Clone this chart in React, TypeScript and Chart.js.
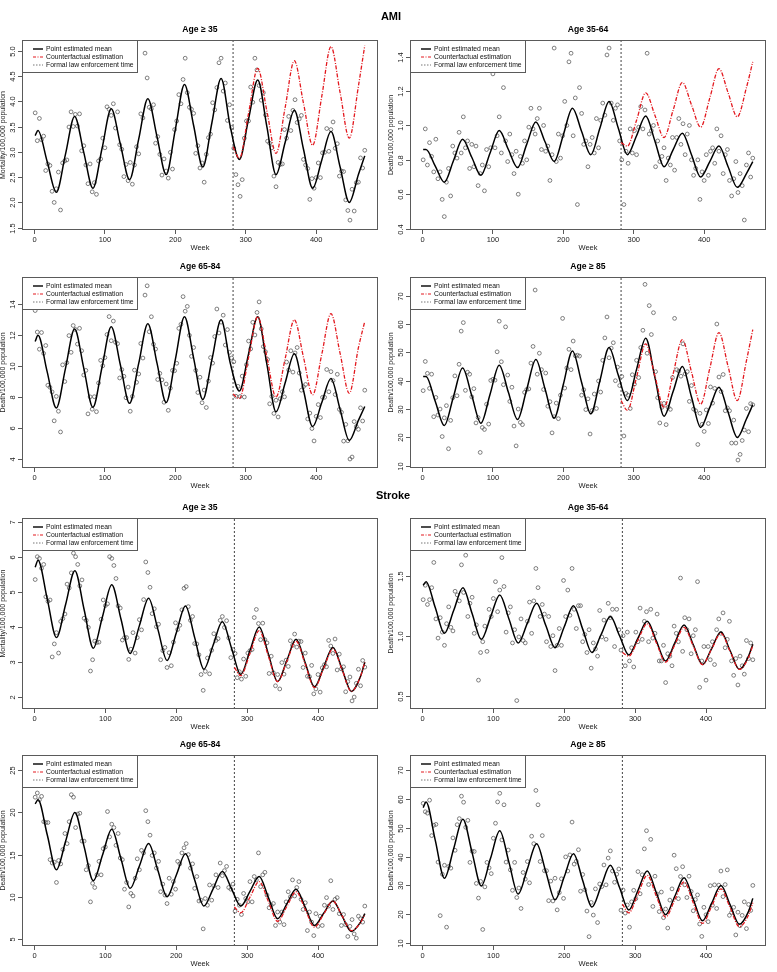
import React, { useEffect, useRef } from "react";
import { Chart, registerables } from "chart.js";

Chart.register(...registerables);

const FONT = '"Liberation Sans", Arial, Helvetica, sans-serif';
const RED = "#e3191f";

// ---------- weeks ----------
const obsWeeks = [
  1, 4, 7, 10, 13, 16, 19, 22, 25, 28,
  31, 34, 37, 40, 43, 46, 49, 52, 55, 58,
  61, 64, 67, 70, 73, 76, 79, 82, 85, 88,
  91, 94, 97, 100, 103, 106, 109, 112, 115, 118,
  121, 124, 127, 130, 133, 136, 139, 142, 145, 148,
  151, 154, 157, 160, 163, 166, 169, 172, 175, 178,
  181, 184, 187, 190, 193, 196, 199, 202, 205, 208,
  211, 214, 217, 220, 223, 226, 229, 232, 235, 238,
  241, 244, 247, 250, 253, 256, 259, 262, 265, 268,
  271, 274, 277, 280, 283, 286, 289, 292, 295, 298,
  301, 304, 307, 310, 313, 316, 319, 322, 325, 328,
  331, 334, 337, 340, 343, 346, 349, 352, 355, 358,
  361, 364, 367, 370, 373, 376, 379, 382, 385, 388,
  391, 394, 397, 400, 403, 406, 409, 412, 415, 418,
  421, 424, 427, 430, 433, 436, 439, 442, 445, 448,
  451, 454, 457, 460, 463, 466, 469,
];
const amiMeanWeeks = [1, 5, 18, 31, 44, 57, 70, 83, 96, 109, 122, 135, 148, 161, 174, 187, 200, 213, 226, 239, 252, 265, 278, 291, 304, 317, 330, 343, 356, 369, 382, 395, 408, 421, 434, 447, 460, 469];
const strokeMeanWeeks = [1, 5, 18, 31, 44, 57, 70, 83, 96, 109, 122, 135, 148, 161, 174, 187, 200, 213, 226, 239, 252, 265, 278, 291, 304, 317, 330, 343, 356, 369, 382, 395, 408, 421, 434, 447, 460, 466];
const amiCfWeeks = [282, 291, 304, 317, 330, 343, 356, 369, 382, 395, 408, 421, 434, 447, 460, 469];
const strokeCfWeeks = [282, 291, 304, 317, 330, 343, 356, 369, 382, 395, 408, 421, 434, 447, 460, 466];
const enforcementWeek = 282;
const xTickValues = [0, 100, 200, 300, 400];
const legendLabels = ["Point estimated mean", "Counterfactual estimation", "Formal law enforcement time"];

// ---------- AMI, Age >= 35 ----------
const amiAge35Obs = [
  3.77, 3.22, 3.66, 3.24, 3.31, 2.63, 2.76, 2.73, 2.22, 2.0,
  2.27, 2.6, 1.85, 2.78, 2.82, 2.84, 3.49, 3.79, 3.5, 3.74,
  3.51, 3.75, 3.02, 3.12, 2.74, 2.37, 2.76, 2.21, 2.39, 2.16,
  2.82, 2.86, 3.27, 3.08, 3.89, 3.84, 3.72, 3.95, 3.47, 3.79,
  3.14, 3.05, 2.51, 2.75, 2.43, 2.79, 2.36, 2.74, 3.1, 2.96,
  3.75, 3.67, 4.95, 4.46, 3.88, 3.85, 3.93, 3.17, 3.3, 2.95,
  2.54, 2.86, 2.62, 2.48, 2.99, 2.66, 3.44, 3.61, 4.13, 3.95,
  4.43, 4.85, 4.17, 3.88, 3.84, 3.76, 2.97, 3.12, 2.68, 2.78,
  2.4, 2.95, 3.28, 3.35, 3.97, 3.83, 4.27, 4.76, 4.85, 4.2,
  4.36, 3.62, 3.93, 3.48, 3.07, 2.55, 2.35, 2.12, 2.45, 3.27,
  3.61, 3.61, 4.28, 3.98, 4.85, 4.62, 4.31, 4.02, 4.17, 3.73,
  3.21, 3.17, 3.08, 2.52, 2.31, 2.79, 2.75, 2.76, 3.44, 3.27,
  3.7, 3.42, 3.82, 4.03, 3.58, 3.65, 3.72, 2.85, 2.74, 2.67,
  2.06, 2.47, 2.28, 2.49, 2.78, 2.49, 2.98, 2.99, 3.46, 3.01,
  3.44, 3.59, 3.07, 3.16, 2.52, 2.62, 2.61, 2.05, 1.84, 1.65,
  2.26, 1.83, 2.39, 2.4, 2.88, 2.68, 3.03,
];
const amiAge35Mean = [3.32, 3.42, 2.81, 2.2, 2.95, 3.7, 2.99, 2.28, 3.07, 3.85, 3.15, 2.45, 3.25, 4.05, 3.3, 2.55, 3.44, 4.33, 3.52, 2.7, 3.58, 4.45, 3.5, 2.85, 3.65, 4.42, 3.5, 2.55, 3.19, 3.82, 3.05, 2.28, 2.84, 3.4, 2.7, 2.0, 2.55, 2.92];
const amiAge35Cf = [3.1, 2.87, 3.76, 4.65, 3.81, 2.97, 3.88, 4.8, 3.96, 3.13, 4.1, 5.08, 4.17, 3.27, 4.3, 5.1];
const amiAge35YTicks = [1.5, 2, 2.5, 3, 3.5, 4, 4.5, 5];
const amiAge35YLabels = ["1.5", "2.0", "2.5", "3.0", "3.5", "4.0", "4.5", "5.0"];

// ---------- AMI, Age 35-64 ----------
const amiAge3564Obs = [
  0.8, 0.98, 0.77, 0.9, 0.82, 0.73, 0.92, 0.69, 0.73, 0.57,
  0.47, 0.67, 0.75, 0.59, 0.88, 0.84, 0.81, 0.96, 0.84, 1.05,
  0.87, 0.91, 0.75, 0.89, 0.76, 0.88, 0.65, 0.72, 0.77, 0.62,
  0.86, 0.76, 0.87, 1.3, 0.87, 0.94, 1.05, 0.84, 1.22, 0.91,
  0.79, 0.95, 0.83, 0.72, 0.85, 0.6, 0.82, 0.78, 0.91, 0.8,
  0.99, 1.1, 0.98, 0.95, 1.04, 1.1, 0.86, 1.0, 0.85, 0.88,
  0.68, 0.83, 1.45, 0.79, 0.95, 0.81, 0.94, 1.14, 1.0, 1.37,
  1.42, 0.94, 1.16, 0.54, 1.22, 1.07, 0.89, 0.91, 0.76, 0.89,
  0.93, 0.84, 1.04, 0.87, 1.03, 1.13, 1.06, 1.41, 1.45, 1.13,
  1.03, 1.1, 1.12, 0.91, 0.8, 0.54, 0.85, 0.78, 0.98, 0.84,
  0.97, 0.83, 0.99, 1.11, 0.98, 1.09, 1.42, 0.95, 0.97, 1.0,
  0.76, 0.91, 0.79, 0.82, 0.87, 0.68, 0.81, 0.77, 0.93, 0.74,
  0.93, 1.04, 0.89, 1.01, 0.83, 0.95, 1.0, 0.8, 0.71, 0.75,
  0.8, 0.57, 0.73, 0.68, 0.83, 0.71, 0.85, 0.87, 0.78, 0.98,
  0.85, 0.94, 0.72, 0.83, 0.86, 0.68, 0.59, 0.69, 0.79, 0.61,
  0.72, 0.65, 0.45, 0.77, 0.84, 0.7, 0.81,
];
const amiAge3564Mean = [0.86, 0.86, 0.765, 0.67, 0.795, 0.92, 0.815, 0.71, 0.84, 0.97, 0.86, 0.755, 0.89, 1.02, 0.905, 0.79, 0.945, 1.1, 0.965, 0.83, 0.985, 1.14, 0.985, 0.83, 0.94, 1.055, 0.91, 0.76, 0.86, 0.955, 0.83, 0.7, 0.79, 0.88, 0.76, 0.64, 0.72, 0.79];
const amiAge3564Cf = [0.9, 0.88, 1.03, 1.19, 1.06, 0.93, 1.09, 1.25, 1.12, 0.99, 1.16, 1.33, 1.19, 1.05, 1.22, 1.37];
const amiAge3564YTicks = [0.4, 0.6, 0.8, 1.0, 1.2, 1.4];
const amiAge3564YLabels = ["0.4", "0.6", "0.8", "1.0", "1.2", "1.4"];

// ---------- AMI, Age 65-84 ----------
const amiAge6584Obs = [
  13.6, 12.21, 11.1, 12.18, 10.83, 11.34, 8.77, 8.64, 8.34, 6.47,
  8.05, 7.09, 5.75, 10.09, 9.01, 10.23, 11.98, 10.9, 12.63, 12.38,
  11.43, 12.45, 11.0, 9.43, 9.73, 6.92, 8.02, 7.22, 8.03, 7.06,
  8.92, 10.38, 10.03, 10.56, 12.05, 13.21, 11.65, 12.92, 11.55, 11.46,
  9.24, 9.78, 9.35, 7.96, 8.65, 7.09, 8.05, 9.75, 8.96, 9.5,
  11.47, 10.53, 14.6, 15.2, 12.23, 13.2, 11.42, 11.11, 9.14, 9.54,
  9.12, 7.67, 8.85, 7.15, 8.58, 9.73, 9.71, 10.19, 12.45, 12.71,
  14.5, 13.56, 13.87, 12.0, 10.64, 11.21, 9.73, 8.3, 9.29, 7.64,
  8.46, 7.33, 9.04, 10.56, 10.2, 11.92, 13.7, 12.15, 12.85, 13.3,
  11.37, 12.37, 10.9, 10.53, 10.29, 8.06, 8.7, 8.04, 9.36, 8.01,
  10.1, 11.63, 11.12, 12.84, 12.02, 13.48, 14.16, 12.42, 11.27, 10.94,
  10.44, 7.57, 8.05, 6.95, 7.8, 6.72, 7.9, 8.35, 8.02, 10.27,
  9.76, 11.0, 9.62, 10.86, 11.21, 9.56, 8.45, 8.68, 8.82, 6.59,
  6.97, 5.97, 5.17, 6.76, 7.52, 6.68, 7.99, 7.99, 9.79, 8.35,
  9.65, 9.07, 8.17, 9.48, 7.21, 7.02, 5.16, 6.24, 5.18, 4.0,
  4.13, 6.42, 6.1, 5.92, 7.31, 6.46, 8.45,
];
const amiAge6584Mean = [11.6, 12.0, 9.65, 7.3, 9.85, 12.4, 9.88, 7.35, 9.95, 12.55, 10.08, 7.6, 10.18, 12.75, 10.2, 7.65, 10.43, 13.2, 10.53, 7.85, 10.43, 13.0, 10.2, 8.4, 10.8, 13.2, 10.13, 7.05, 8.93, 10.8, 8.45, 6.1, 7.65, 9.2, 7.2, 5.2, 6.5, 7.4];
const amiAge6584Cf = [8.2, 7.9, 10.55, 13.2, 10.6, 8.0, 10.5, 13.0, 10.58, 8.15, 10.78, 13.4, 10.83, 8.25, 11.2, 12.9];
const amiAge6584YTicks = [4, 6, 8, 10, 12, 14];
const amiAge6584YLabels = ["4", "6", "8", "10", "12", "14"];

// ---------- AMI, Age >= 85 ----------
const amiAge85Obs = [
  36.5, 46.8, 42.6, 37.3, 42.3, 27.3, 34.1, 27.9, 30.0, 20.3,
  26.9, 31.2, 16.0, 26.0, 34.0, 41.7, 34.7, 45.8, 57.5, 60.5,
  36.6, 43.0, 42.3, 34.3, 37.2, 25.1, 27.0, 14.7, 23.5, 22.8,
  31.7, 24.7, 40.1, 40.5, 40.2, 50.2, 61.0, 46.7, 38.6, 59.0,
  42.0, 32.7, 37.7, 24.0, 17.0, 30.0, 25.3, 24.5, 35.9, 36.9,
  37.1, 46.2, 52.1, 72.0, 42.3, 49.7, 43.9, 36.9, 42.7, 31.0,
  32.6, 21.6, 27.3, 32.1, 26.6, 34.9, 62.0, 37.4, 44.5, 51.1,
  43.9, 54.0, 48.8, 49.0, 48.7, 34.9, 36.8, 29.8, 33.6, 21.2,
  29.5, 35.3, 30.2, 39.9, 36.0, 47.2, 55.1, 62.5, 48.1, 51.5,
  53.4, 40.0, 44.8, 38.3, 41.5, 20.5, 35.5, 34.9, 30.2, 42.1,
  38.8, 47.2, 41.1, 51.7, 57.8, 74.0, 49.7, 66.5, 56.3, 64.0,
  43.2, 34.0, 25.1, 30.6, 32.0, 24.5, 30.6, 29.9, 41.1, 62.0,
  43.9, 43.4, 41.6, 53.0, 42.4, 43.2, 32.7, 38.3, 30.0, 29.4,
  17.5, 28.5, 24.6, 22.1, 29.7, 24.9, 37.8, 32.1, 37.3, 60.0,
  41.3, 36.2, 42.2, 29.4, 30.4, 29.4, 18.0, 26.1, 18.0, 12.0,
  14.0, 18.9, 22.6, 30.2, 22.0, 31.9, 31.5,
];
const amiAge85Mean = [41.5, 41.5, 32.85, 24.2, 34.35, 44.5, 34.75, 25.0, 35.25, 45.5, 35.9, 26.3, 36.9, 47.5, 37.15, 26.8, 38.65, 50.5, 39.4, 28.3, 40.0, 51.7, 42.0, 33.0, 44.0, 55.0, 41.25, 27.5, 36.25, 45.0, 34.25, 23.5, 30.6, 37.7, 28.85, 20.0, 26.5, 31.5];
const amiAge85Cf = [33.0, 29.5, 41.25, 53.0, 41.75, 30.5, 42.5, 54.5, 43.1, 31.7, 44.35, 57.0, 45.0, 33.0, 47.0, 58.0];
const amiAge85YTicks = [10, 20, 30, 40, 50, 60, 70];
const amiAge85YLabels = ["10", "20", "30", "40", "50", "60", "70"];

// ---------- Stroke, Age >= 35 ----------
const strokeAge35Obs = [
  5.35, 6.0, 5.95, 5.67, 5.78, 4.86, 4.73, 4.77, 3.15, 3.52,
  3.84, 3.26, 4.16, 4.24, 4.37, 5.22, 5.11, 5.54, 6.1, 6.0,
  5.78, 5.17, 5.34, 4.25, 4.19, 3.99, 2.75, 3.07, 3.6, 3.56,
  3.57, 4.22, 4.77, 4.61, 4.66, 6.0, 5.95, 5.75, 5.38, 4.6,
  4.54, 3.63, 3.7, 3.7, 3.08, 3.37, 3.84, 3.26, 3.7, 4.21,
  3.92, 4.78, 5.85, 5.55, 5.13, 4.38, 4.52, 4.01, 4.08, 3.07,
  3.33, 3.42, 2.85, 3.27, 2.9, 3.57, 4.12, 3.93, 4.05, 4.49,
  5.1, 5.15, 4.58, 4.19, 4.3, 3.53, 3.52, 3.21, 2.65, 2.2,
  2.74, 3.12, 2.67, 3.34, 3.81, 3.62, 3.67, 4.19, 4.3, 3.99,
  4.18, 3.69, 3.13, 3.36, 3.25, 2.56, 2.73, 2.52, 3.09, 2.6,
  3.26, 3.33, 3.36, 4.27, 4.5, 4.1, 3.64, 4.11, 3.64, 3.55,
  2.68, 3.17, 2.7, 2.33, 2.65, 2.24, 2.99, 2.66, 3.06, 2.88,
  3.61, 3.48, 3.8, 3.43, 3.6, 3.59, 2.85, 3.26, 2.6, 2.59,
  2.91, 2.1, 2.24, 2.65, 2.15, 2.84, 2.93, 2.87, 3.62, 3.46,
  3.25, 3.66, 2.78, 3.23, 2.81, 2.87, 2.16, 2.45, 2.58, 1.9,
  2.01, 2.4, 2.8, 2.33, 3.05, 2.86,
];
const strokeAge35Mean = [5.7, 5.9, 4.8, 3.7, 4.65, 5.6, 4.5, 3.4, 4.3, 5.2, 4.23, 3.25, 4.04, 4.82, 3.94, 3.05, 3.83, 4.6, 3.7, 2.8, 3.48, 4.15, 3.4, 2.65, 3.33, 4.0, 3.23, 2.45, 3.05, 3.65, 2.98, 2.3, 2.86, 3.42, 2.8, 2.17, 2.6, 3.0];
const strokeAge35Cf = [2.85, 2.62, 3.25, 3.9, 3.17, 2.45, 3.02, 3.6, 2.94, 2.28, 2.83, 3.38, 2.78, 2.17, 2.6, 3.0];
const strokeAge35YTicks = [2, 3, 4, 5, 6, 7];
const strokeAge35YLabels = ["2", "3", "4", "5", "6", "7"];

// ---------- Stroke, Age 35-64 ----------
const strokeAge3564Obs = [
  1.3, 1.42, 1.26, 1.3, 1.4, 1.61, 1.14, 0.98, 1.15, 1.03,
  0.92, 1.1, 1.24, 1.07, 1.04, 1.37, 1.34, 1.29, 1.59, 1.36,
  1.67, 1.16, 1.27, 1.32, 1.02, 1.09, 0.63, 0.86, 0.95, 1.08,
  0.87, 1.22, 1.16, 1.31, 1.45, 1.2, 1.38, 1.65, 1.41, 1.03,
  1.19, 1.24, 0.94, 1.05, 0.46, 0.99, 1.14, 0.96, 0.94, 1.12,
  1.28, 1.02, 1.29, 1.56, 1.4, 1.16, 1.26, 1.18, 0.95, 1.16,
  0.91, 1.0, 0.71, 0.92, 1.06, 0.92, 1.46, 1.16, 1.38, 1.17,
  1.56, 1.22, 1.06, 1.25, 1.25, 0.95, 1.01, 0.86, 1.05, 0.73,
  0.94, 0.89, 0.83, 1.21, 0.99, 1.13, 0.97, 1.27, 1.15, 1.22,
  0.91, 1.22, 1.05, 0.88, 1.0, 0.75, 1.03, 0.79, 0.9, 0.74,
  1.03, 0.95, 1.23, 0.97, 1.12, 1.2, 0.95, 1.22, 0.98, 1.02,
  1.18, 0.79, 0.79, 0.92, 0.61, 0.85, 0.83, 0.75, 1.08, 1.02,
  0.95, 1.48, 0.87, 1.15, 1.05, 1.14, 0.85, 1.0, 1.05, 1.45,
  0.57, 0.79, 0.91, 0.63, 0.91, 0.8, 0.95, 0.76, 1.05, 1.14,
  1.02, 1.19, 0.9, 0.97, 1.12, 0.79, 0.67, 0.81, 0.59, 0.83,
  0.75, 0.68, 0.96, 0.81, 0.94, 0.8,
];
const strokeAge3564Mean = [1.42, 1.45, 1.235, 1.02, 1.21, 1.4, 1.185, 0.97, 1.155, 1.34, 1.14, 0.94, 1.105, 1.27, 1.085, 0.9, 1.075, 1.25, 1.055, 0.86, 1.01, 1.16, 1.0, 0.84, 0.98, 1.12, 0.955, 0.79, 0.94, 1.09, 0.925, 0.76, 0.895, 1.03, 0.875, 0.72, 0.83, 0.93];
const strokeAge3564Cf = [0.86, 0.83, 0.965, 1.1, 0.94, 0.78, 0.925, 1.07, 0.915, 0.76, 0.89, 1.02, 0.87, 0.72, 0.82, 0.92];
const strokeAge3564YTicks = [0.5, 1.0, 1.5];
const strokeAge3564YLabels = ["0.5", "1.0", "1.5"];

// ---------- Stroke, Age 65-84 ----------
const strokeAge6584Obs = [
  21.8, 22.3, 21.5, 21.9, 18.9, 18.8, 18.8, 14.4, 14.0, 14.1,
  11.7, 14.3, 13.9, 15.6, 17.5, 16.3, 18.9, 22.1, 21.8, 18.2,
  19.8, 19.9, 16.6, 16.6, 13.2, 13.7, 9.4, 11.6, 11.1, 12.6,
  14.2, 12.6, 15.7, 15.9, 20.1, 17.1, 18.6, 18.2, 16.1, 17.5,
  14.6, 14.4, 10.9, 11.7, 8.8, 10.4, 10.1, 12.2, 14.5, 13.2,
  15.5, 15.2, 20.2, 18.9, 17.3, 14.9, 15.2, 13.4, 14.2, 10.6,
  11.5, 10.2, 9.2, 12.2, 10.3, 11.8, 10.9, 14.2, 13.9, 15.2,
  15.8, 16.3, 15.0, 13.4, 13.9, 11.0, 12.4, 9.5, 9.6, 6.2,
  9.8, 9.0, 11.4, 9.6, 11.3, 12.6, 11.1, 14.0, 12.5, 13.1,
  13.6, 11.1, 10.9, 11.5, 8.3, 9.7, 9.0, 7.9, 10.4, 9.8,
  9.4, 11.8, 9.4, 12.4, 12.0, 15.2, 11.2, 12.6, 12.9, 10.2,
  8.7, 9.0, 9.2, 6.6, 8.2, 7.0, 8.2, 6.7, 9.4, 10.6,
  10.0, 12.0, 10.1, 11.1, 11.8, 9.7, 8.5, 9.3, 6.0, 8.2,
  7.0, 5.4, 8.0, 6.5, 7.7, 6.6, 9.0, 9.9, 8.9, 11.9,
  8.5, 9.7, 9.9, 8.0, 6.6, 7.9, 6.7, 5.3, 6.5, 7.3,
  5.6, 5.1, 7.7, 7.4, 7.0, 8.9,
];
const strokeAge6584Mean = [21.0, 21.5, 17.35, 13.2, 16.6, 20.0, 15.95, 11.9, 14.95, 18.0, 14.5, 11.0, 13.65, 16.3, 13.15, 10.0, 12.55, 15.1, 12.0, 8.9, 10.95, 13.0, 10.95, 8.9, 10.65, 12.4, 9.9, 7.4, 9.15, 10.9, 8.75, 6.6, 8.05, 9.5, 7.7, 5.9, 7.0, 8.0];
const strokeAge6584Cf = [8.8, 8.1, 9.95, 11.8, 9.45, 7.1, 8.85, 10.6, 8.5, 6.4, 7.95, 9.5, 7.75, 6.0, 6.95, 7.9];
const strokeAge6584YTicks = [5, 10, 15, 20, 25];
const strokeAge6584YLabels = ["5", "10", "15", "20", "25"];

// ---------- Stroke, Age >= 85 ----------
const strokeAge85Obs = [
  58.5, 55.6, 55.1, 59.6, 47.3, 50.9, 51.2, 38.1, 19.5, 33.9,
  37.0, 15.5, 36.6, 36.0, 46.5, 42.2, 51.1, 53.2, 61.0, 58.9,
  50.2, 52.6, 38.0, 41.9, 41.8, 30.7, 25.6, 31.4, 14.7, 29.5,
  38.0, 36.1, 34.1, 46.4, 51.6, 59.0, 62.0, 45.8, 58.0, 38.1,
  42.3, 35.4, 28.3, 38.0, 25.8, 29.1, 22.0, 34.5, 32.2, 38.3,
  30.9, 47.1, 44.5, 63.0, 58.0, 38.3, 47.3, 35.1, 35.1, 24.7,
  31.5, 24.6, 32.5, 21.5, 27.5, 32.3, 25.5, 39.9, 35.0, 40.6,
  52.0, 37.4, 38.4, 42.4, 28.0, 33.8, 28.5, 21.1, 12.2, 24.1,
  19.7, 28.8, 17.1, 30.5, 29.6, 37.1, 30.2, 39.5, 42.0, 35.0,
  31.1, 33.9, 35.7, 21.4, 28.4, 20.4, 23.2, 15.5, 24.3, 28.3,
  25.4, 34.8, 27.1, 33.7, 42.7, 49.0, 30.3, 46.0, 22.7, 33.2,
  27.0, 20.9, 27.7, 18.8, 21.8, 15.2, 24.9, 28.8, 40.5, 35.8,
  25.4, 33.1, 36.5, 30.2, 25.8, 33.2, 27.9, 21.2, 25.1, 26.7,
  16.6, 12.3, 22.4, 19.8, 17.4, 29.9, 23.1, 30.2, 22.0, 30.1,
  35.0, 26.1, 30.3, 35.4, 19.6, 20.6, 22.4, 12.8, 20.7, 16.0,
  19.6, 24.3, 15.0, 23.4, 21.3, 30.0,
];
const strokeAge85Mean = [57.0, 59.0, 45.75, 32.5, 42.75, 53.0, 41.4, 29.8, 39.4, 49.0, 38.0, 27.0, 35.75, 44.5, 34.75, 25.0, 33.0, 41.0, 31.75, 22.5, 29.75, 37.0, 29.25, 21.5, 28.25, 35.0, 27.4, 19.8, 26.25, 32.7, 25.2, 17.7, 23.85, 30.0, 23.25, 16.5, 21.0, 25.5];
const strokeAge85Cf = [23.5, 20.5, 27.0, 33.5, 26.25, 19.0, 25.1, 31.2, 24.0, 16.8, 22.8, 28.8, 22.25, 15.7, 19.8, 24.0];
const strokeAge85YTicks = [10, 20, 30, 40, 50, 60, 70];
const strokeAge85YLabels = ["10", "20", "30", "40", "50", "60", "70"];

// ---------- layout ----------
const PAD_TOP = 28;
const PAD_RIGHT = 8;
const AXIS_W = 22;
const AXIS_H = 24;
const BOX_W = 356;
const CANVAS_W = AXIS_W + BOX_W + PAD_RIGHT;

type PanelSpec = {
  key: string;
  left: number;
  top: number;
  boxH: number;
  title: string;
  yTitle: string;
  xMin: number;
  xMax: number;
  yMin: number;
  yMax: number;
  yTicks: number[];
  yLabels: string[];
  obs: number[];
  meanWeeks: number[];
  mean: number[];
  cfWeeks: number[];
  cf: number[];
};

const AMI_X = { xMin: -17.7, xMax: 487.8 };
const STROKE_X = { xMin: -17.6, xMax: 484.6 };

const panels: PanelSpec[] = [
  { key: "a1", left: 0, top: 12, boxH: 190, title: "Age ≥ 35", yTitle: "Mortality/100,000 population", ...AMI_X, yMin: 1.455, yMax: 5.21, yTicks: amiAge35YTicks, yLabels: amiAge35YLabels, obs: amiAge35Obs, meanWeeks: amiMeanWeeks, mean: amiAge35Mean, cfWeeks: amiCfWeeks, cf: amiAge35Cf },
  { key: "a2", left: 388, top: 12, boxH: 190, title: "Age 35-64", yTitle: "Death/100,000 population", ...AMI_X, yMin: 0.392, yMax: 1.497, yTicks: amiAge3564YTicks, yLabels: amiAge3564YLabels, obs: amiAge3564Obs, meanWeeks: amiMeanWeeks, mean: amiAge3564Mean, cfWeeks: amiCfWeeks, cf: amiAge3564Cf },
  { key: "a3", left: 0, top: 249, boxH: 191, title: "Age 65-84", yTitle: "Death/100,000 population", ...AMI_X, yMin: 3.42, yMax: 15.77, yTicks: amiAge6584YTicks, yLabels: amiAge6584YLabels, obs: amiAge6584Obs, meanWeeks: amiMeanWeeks, mean: amiAge6584Mean, cfWeeks: amiCfWeeks, cf: amiAge6584Cf },
  { key: "a4", left: 388, top: 249, boxH: 191, title: "Age ≥ 85", yTitle: "Death/100,000 population", ...AMI_X, yMin: 9.2, yMax: 76.6, yTicks: amiAge85YTicks, yLabels: amiAge85YLabels, obs: amiAge85Obs, meanWeeks: amiMeanWeeks, mean: amiAge85Mean, cfWeeks: amiCfWeeks, cf: amiAge85Cf },
  { key: "s1", left: 0, top: 490, boxH: 191, title: "Age ≥ 35", yTitle: "Mortality/100,000 population", ...STROKE_X, yMin: 1.67, yMax: 7.1, yTicks: strokeAge35YTicks, yLabels: strokeAge35YLabels, obs: strokeAge35Obs, meanWeeks: strokeMeanWeeks, mean: strokeAge35Mean, cfWeeks: strokeCfWeeks, cf: strokeAge35Cf },
  { key: "s2", left: 388, top: 490, boxH: 191, title: "Age 35-64", yTitle: "Death/100,000 population", ...STROKE_X, yMin: 0.39, yMax: 1.98, yTicks: strokeAge3564YTicks, yLabels: strokeAge3564YLabels, obs: strokeAge3564Obs, meanWeeks: strokeMeanWeeks, mean: strokeAge3564Mean, cfWeeks: strokeCfWeeks, cf: strokeAge3564Cf },
  { key: "s3", left: 0, top: 727, boxH: 191, title: "Age 65-84", yTitle: "Death/100,000 population", ...STROKE_X, yMin: 4.17, yMax: 26.8, yTicks: strokeAge6584YTicks, yLabels: strokeAge6584YLabels, obs: strokeAge6584Obs, meanWeeks: strokeMeanWeeks, mean: strokeAge6584Mean, cfWeeks: strokeCfWeeks, cf: strokeAge6584Cf },
  { key: "s4", left: 388, top: 727, boxH: 191, title: "Age ≥ 85", yTitle: "Death/100,000 population", ...STROKE_X, yMin: 8.96, yMax: 75.3, yTicks: strokeAge85YTicks, yLabels: strokeAge85YLabels, obs: strokeAge85Obs, meanWeeks: strokeMeanWeeks, mean: strokeAge85Mean, cfWeeks: strokeCfWeeks, cf: strokeAge85Cf },
];

const toPts = (xs: number[], ys: number[]) => ys.map((y, i) => ({ x: xs[i], y }));

function makeFramePlugin(p: PanelSpec) {
  return {
    id: "rframe_" + p.key,
    afterDraw(chart: any) {
      const { ctx, chartArea: a, scales } = chart;
      const ys = scales.y;
      ctx.save();
      // plot box
      ctx.strokeStyle = "#5a5a5a";
      ctx.lineWidth = 1;
      ctx.setLineDash([]);
      ctx.strokeRect(a.left + 0.5, a.top + 0.5, a.right - a.left - 1, a.bottom - a.top - 1);

      // y ticks and rotated labels
      ctx.fillStyle = "#222";
      ctx.font = `7.5px ${FONT}`;
      p.yTicks.forEach((v, i) => {
        const y = Math.round(ys.getPixelForValue(v)) + 0.5;
        ctx.beginPath();
        ctx.moveTo(a.left, y);
        ctx.lineTo(a.left - 4, y);
        ctx.stroke();
        ctx.save();
        ctx.translate(a.left - 9.5, y);
        ctx.rotate(-Math.PI / 2);
        ctx.textAlign = "center";
        ctx.textBaseline = "middle";
        ctx.fillText(p.yLabels[i], 0, 0);
        ctx.restore();
      });

      // y title
      ctx.save();
      ctx.font = `7px ${FONT}`;
      ctx.translate(a.left - 18.5, (a.top + a.bottom) / 2);
      ctx.rotate(-Math.PI / 2);
      ctx.textAlign = "center";
      ctx.textBaseline = "middle";
      ctx.fillText(p.yTitle, 0, 0);
      ctx.restore();

      // x title
      ctx.font = `7.5px ${FONT}`;
      ctx.textAlign = "center";
      ctx.textBaseline = "middle";
      ctx.fillText("Week", (a.left + a.right) / 2, a.bottom + 17.5);

      // panel title
      ctx.font = `bold 8.6px ${FONT}`;
      ctx.fillStyle = "#000";
      ctx.fillText(p.title, (a.left + a.right) / 2, a.top - 10);

      // legend
      const lx = a.left;
      const ly = a.top;
      const lw = 116;
      const lh = 33;
      ctx.fillStyle = "#fff";
      ctx.fillRect(lx, ly, lw, lh);
      ctx.strokeStyle = "#5a5a5a";
      ctx.lineWidth = 1;
      ctx.strokeRect(lx + 0.5, ly + 0.5, lw - 1, lh - 1);
      const styles = [
        { color: "#000", dash: [] as number[], w: 1.4 },
        { color: RED, dash: [3, 1.5, 1, 1.5], w: 1.2 },
        { color: "#777", dash: [1.5, 1.5], w: 1 },
      ];
      ctx.font = `6.8px ${FONT}`;
      ctx.textAlign = "left";
      ctx.textBaseline = "middle";
      legendLabels.forEach((label, i) => {
        const ry = ly + 9 + i * 8;
        const s = styles[i];
        ctx.beginPath();
        ctx.strokeStyle = s.color;
        ctx.lineWidth = s.w;
        ctx.setLineDash(s.dash);
        ctx.moveTo(lx + 11, ry);
        ctx.lineTo(lx + 21, ry);
        ctx.stroke();
        ctx.setLineDash([]);
        ctx.fillStyle = "#111";
        ctx.fillText(label, lx + 24, ry);
      });
      ctx.restore();
    },
  };
}

function PanelChart({ p }: { p: PanelSpec }) {
  const ref = useRef<HTMLCanvasElement | null>(null);
  const h = PAD_TOP + p.boxH + AXIS_H;
  useEffect(() => {
    if (!ref.current) return;
    const chart = new Chart(ref.current, {
      type: "scatter",
      data: {
        datasets: [
          {
            label: "cf",
            data: toPts(p.cfWeeks, p.cf),
            showLine: true,
            borderColor: RED,
            borderWidth: 1.3,
            borderDash: [4, 1.5, 1, 1.5],
            pointRadius: 0,
            cubicInterpolationMode: "monotone",
            order: 0,
          } as any,
          {
            label: "mean",
            data: toPts(p.meanWeeks, p.mean),
            showLine: true,
            borderColor: "#000",
            borderWidth: 1.5,
            pointRadius: 0,
            cubicInterpolationMode: "monotone",
            order: 1,
          } as any,
          {
            label: "law",
            data: [
              { x: enforcementWeek, y: p.yMin },
              { x: enforcementWeek, y: p.yMax },
            ],
            showLine: true,
            borderColor: "#444",
            borderWidth: 1,
            borderDash: [2, 2],
            pointRadius: 0,
            order: 2,
          } as any,
          {
            label: "obs",
            data: toPts(obsWeeks, p.obs),
            showLine: false,
            pointRadius: 1.9,
            pointBorderWidth: 0.75,
            pointBorderColor: "#555",
            pointBackgroundColor: "rgba(0,0,0,0)",
            order: 3,
          } as any,
        ],
      },
      options: {
        responsive: false,
        animation: false,
        events: [],
        layout: { padding: { top: PAD_TOP, right: PAD_RIGHT, bottom: 0, left: 0 } },
        plugins: {
          legend: { display: false },
          tooltip: { enabled: false },
          title: { display: false },
        },
        scales: {
          x: {
            type: "linear",
            min: p.xMin,
            max: p.xMax,
            afterFit: (s: any) => {
              s.height = AXIS_H;
            },
            afterBuildTicks: (s: any) => {
              s.ticks = xTickValues.map((v) => ({ value: v }));
            },
            ticks: {
              font: { family: FONT, size: 7.5 },
              color: "#222",
              padding: 1,
              maxRotation: 0,
              minRotation: 0,
              autoSkip: false,
              callback: (v: any) => String(v),
            },
            grid: { drawOnChartArea: false, drawTicks: true, tickLength: 4, color: "#5a5a5a", lineWidth: 1 },
            border: { display: false },
          },
          y: {
            type: "linear",
            min: p.yMin,
            max: p.yMax,
            afterFit: (s: any) => {
              s.width = AXIS_W;
            },
            afterBuildTicks: (s: any) => {
              s.ticks = p.yTicks.map((v) => ({ value: v }));
            },
            ticks: { display: false },
            grid: { display: false },
            border: { display: false },
          },
        },
      } as any,
      plugins: [makeFramePlugin(p)],
    });
    return () => chart.destroy();
  }, [p]);
  return (
    <canvas
      ref={ref}
      width={CANVAS_W}
      height={h}
      style={{ position: "absolute", left: p.left, top: p.top, width: CANVAS_W, height: h }}
    />
  );
}

const headerStyle: React.CSSProperties = {
  position: "absolute",
  width: 100,
  textAlign: "center",
  font: `bold 11px ${FONT}`,
  lineHeight: "12px",
  color: "#000",
};

export default function App() {
  return (
    <div style={{ position: "absolute", left: 0, top: 0, width: 777, height: 972, background: "#fff", overflow: "hidden" }}>
      {panels.map((p) => (
        <PanelChart key={p.key} p={p} />
      ))}
      <div style={{ ...headerStyle, left: 341, top: 10 }}>AMI</div>
      <div style={{ ...headerStyle, left: 343, top: 489 }}>Stroke</div>
    </div>
  );
}
